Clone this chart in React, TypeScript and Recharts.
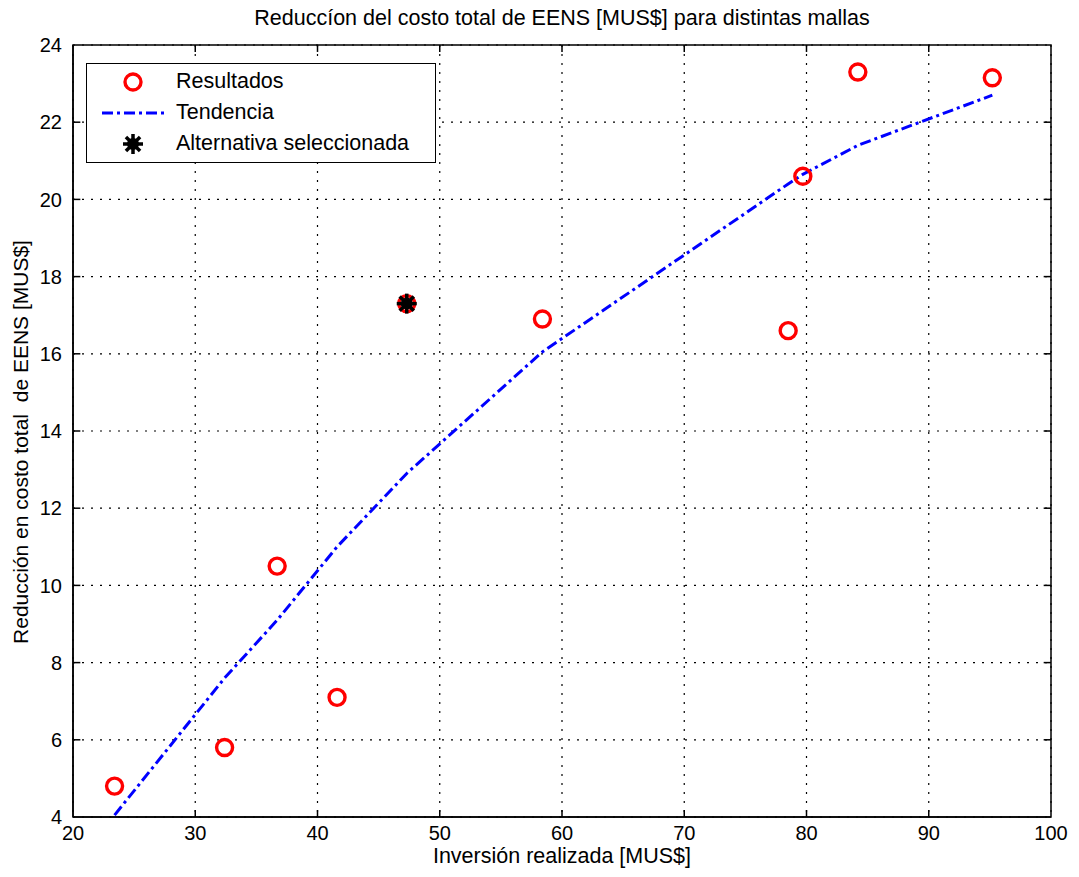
import React from 'react';
import { ScatterChart, Scatter, XAxis, YAxis, CartesianGrid, ReferenceArea, ReferenceLine } from 'recharts';

const resultadosX = [23.4, 32.4, 36.7, 41.6, 47.3, 58.4, 78.5, 79.7, 84.2, 95.2];
const resultadosY = [4.8, 5.8, 10.5, 7.1, 17.3, 16.9, 16.6, 20.6, 23.3, 23.15];
const tendenciaX = [23.4, 32.4, 36.7, 41.6, 47.3, 58.4, 78.5, 79.7, 84.2, 95.2];
const tendenciaY = [4.05, 7.6, 9.1, 11.0, 12.9, 16.05, 20.4, 20.65, 21.4, 22.7];
const seleccionX = [47.3];
const seleccionY = [17.3];
const xTicks = [20, 30, 40, 50, 60, 70, 80, 90, 100];
const yTicks = [4, 6, 8, 10, 12, 14, 16, 18, 20, 22, 24];

const resultados = resultadosX.map((x, i) => ({ x, y: resultadosY[i] }));
const tendencia = tendenciaX.map((x, i) => ({ x, y: tendenciaY[i] }));
const seleccion = seleccionX.map((x, i) => ({ x, y: seleccionY[i] }));

const FONT = 'Arial, "Liberation Sans", Helvetica, sans-serif';

const Ring = (props: any) => {
  const { cx, cy } = props;
  if (cx == null || cy == null) return null;
  return <circle cx={cx} cy={cy} r={8} fill="none" stroke="#ff0000" strokeWidth={3.4} />;
};

const Star = (props: any) => {
  const { cx, cy } = props;
  if (cx == null || cy == null) return null;
  const r = 10;
  const lines = [];
  for (let k = 0; k < 4; k++) {
    const a = (k * Math.PI) / 4;
    lines.push(
      <line key={k} x1={cx - r * Math.cos(a)} y1={cy - r * Math.sin(a)} x2={cx + r * Math.cos(a)} y2={cy + r * Math.sin(a)} stroke="#000" strokeWidth={3.5} />
    );
  }
  return (
    <g>
      <circle cx={cx} cy={cy} r={6} fill="#000" />
      {lines}
    </g>
  );
};

const NoShape = () => null;

const innerX = xTicks.slice(1, -1);
const innerY = yTicks.slice(1, -1);

export default function App() {
  return (
    <div style={{ position: 'relative', width: 1063, height: 861, fontFamily: FONT, background: '#fff' }}>
      <div style={{ position: 'absolute', left: 0, top: -2, width: 1108, textAlign: 'center', fontSize: 21.5, color: '#000', lineHeight: '24px' }}>
        Reduccíon del costo total de EENS [MUS$] para distintas mallas
      </div>
      <ScatterChart width={1063} height={861} margin={{ top: 37, right: 20, left: 0, bottom: 0 }}>
        <CartesianGrid stroke="#000" strokeDasharray="2 7" strokeWidth={1.2} />
        <XAxis
          type="number"
          dataKey="x"
          domain={[20, 100]}
          ticks={xTicks}
          height={52}
          tickLine={false}
          axisLine={{ stroke: '#000', strokeWidth: 1.5 }}
          tickSize={6}
          tickMargin={3}
          tick={{ fill: '#000', fontSize: 20, fontFamily: FONT }}
          allowDataOverflow
        />
        <YAxis
          type="number"
          dataKey="y"
          domain={[4, 24]}
          ticks={yTicks}
          width={65}
          tickLine={false}
          axisLine={{ stroke: '#000', strokeWidth: 1.5 }}
          tickSize={6}
          tickMargin={5}
          tick={{ fill: '#000', fontSize: 20, fontFamily: FONT }}
          allowDataOverflow
        />
        <ReferenceArea x1={20} x2={100} y1={4} y2={24} fill="none" stroke="#000" strokeWidth={1.5} ifOverflow="visible" />
        {innerX.map((t) => (
          <ReferenceLine key={'xb' + t} segment={[{ x: t, y: 4 }, { x: t, y: 4.18 }]} stroke="#000" strokeWidth={1.5} />
        ))}
        {innerX.map((t) => (
          <ReferenceLine key={'xt' + t} segment={[{ x: t, y: 24 }, { x: t, y: 23.82 }]} stroke="#000" strokeWidth={1.5} />
        ))}
        {innerY.map((t) => (
          <ReferenceLine key={'yl' + t} segment={[{ x: 20, y: t }, { x: 20.6, y: t }]} stroke="#000" strokeWidth={1.5} />
        ))}
        {innerY.map((t) => (
          <ReferenceLine key={'yr' + t} segment={[{ x: 100, y: t }, { x: 99.4, y: t }]} stroke="#000" strokeWidth={1.5} />
        ))}
        <Scatter
          name="Tendencia"
          data={tendencia}
          line={{ stroke: '#0000ff', strokeWidth: 3, strokeDasharray: '11 4 3 4' }}
          shape={NoShape}
          isAnimationActive={false}
        />
        <Scatter name="Resultados" data={resultados} shape={Ring} isAnimationActive={false} />
        <Scatter name="Alternativa seleccionada" data={seleccion} shape={Star} isAnimationActive={false} />
      </ScatterChart>
      <div style={{ position: 'absolute', left: 0, top: 836, width: 1108, textAlign: 'center', fontSize: 21.5, color: '#000', lineHeight: '24px' }}>
        Inversión realizada [MUS$]
      </div>
      <div
        style={{
          position: 'absolute',
          left: 13,
          top: 434,
          transform: 'translate(-50%, -50%) rotate(-90deg)',
          whiteSpace: 'nowrap',
          fontSize: 21,
          lineHeight: '24px',
          color: '#000',
        }}
      >
        Reducción en costo total&nbsp; de EENS [MUS$]
      </div>
      <div
        style={{
          position: 'absolute',
          left: 78,
          top: 55,
          width: 350,
          height: 100,
          border: '1.5px solid #000',
          background: '#fff',
          boxSizing: 'border-box',
          fontSize: 21.5,
          color: '#000',
        }}
      >
        <svg width={80} height={98} style={{ position: 'absolute', left: 0, top: 0 }}>
          <circle cx={46} cy={18} r={8} fill="none" stroke="#ff0000" strokeWidth={3.4} />
          <line x1={15} y1={49} x2={77} y2={49} stroke="#0000ff" strokeWidth={3} strokeDasharray="11 4 3 4" />
          <g>
            <circle cx={46} cy={80} r={6} fill="#000" />
            {[0, 1, 2, 3].map((k) => {
              const a = (k * Math.PI) / 4;
              return <line key={k} x1={46 - 10 * Math.cos(a)} y1={80 - 10 * Math.sin(a)} x2={46 + 10 * Math.cos(a)} y2={80 + 10 * Math.sin(a)} stroke="#000" strokeWidth={3.5} />;
            })}
          </g>
        </svg>
        <div style={{ position: 'absolute', left: 89, top: 4, lineHeight: '26px' }}>Resultados</div>
        <div style={{ position: 'absolute', left: 89, top: 35, lineHeight: '26px' }}>Tendencia</div>
        <div style={{ position: 'absolute', left: 89, top: 66, lineHeight: '26px' }}>Alternativa seleccionada</div>
      </div>
    </div>
  );
}
